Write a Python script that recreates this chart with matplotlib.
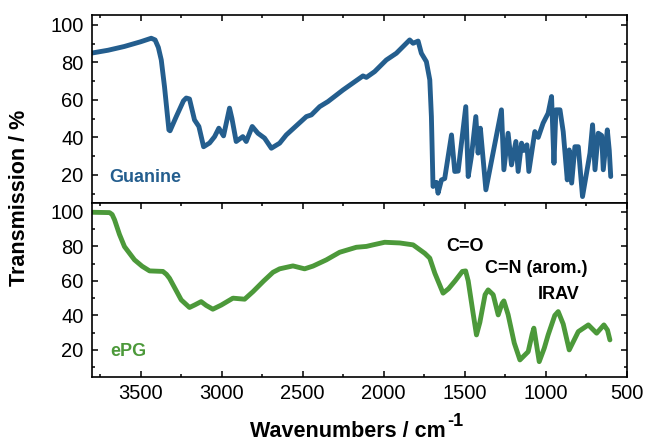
import matplotlib
matplotlib.use('Agg')
import matplotlib.pyplot as plt
from matplotlib.ticker import MultipleLocator
from matplotlib.transforms import offset_copy

plt.rcParams['font.family'] = ['Liberation Sans', 'DejaVu Sans']

# Guanine spectrum
guanine_wn = [3800, 3700, 3600, 3500, 3434, 3410, 3390, 3372, 3352, 3325, 3318, 3280, 3235,
              3218, 3198, 3167, 3140, 3111, 3074, 3043, 3017, 2988, 2951, 2936, 2910, 2869,
              2848, 2811, 2776, 2735, 2693, 2642, 2601, 2477, 2446, 2395, 2344, 2251, 2128,
              2107, 2056, 1984, 1922, 1840, 1819, 1788, 1768, 1737, 1716, 1706, 1696, 1675,
              1665, 1644, 1624, 1582, 1562, 1541, 1494, 1479, 1459, 1432, 1418, 1404, 1370,
              1274, 1259, 1233, 1212, 1185, 1171, 1150, 1136, 1117, 1105, 1068, 1047, 1017,
              986, 965, 950, 938, 913, 893, 868, 856, 841, 821, 800, 774, 728, 712, 697, 677,
              656, 646, 621, 609, 600]
guanine_t = [85, 86.5, 88.5, 91, 92.9, 92, 88, 81.3, 67, 44, 43.5, 51, 59.5,
             61, 60.5, 49.3, 45.8, 35, 37, 40.4, 44.9, 40.8, 55.6, 50, 37.8, 40.4,
             37.8, 45.8, 42.2, 39.6, 34.2, 36.9, 41.3, 51.1, 52, 56.4, 59.1, 65.3, 72.8,
             72, 75.1, 81.3, 84.9, 92, 90.2, 91.4, 84.9, 80.4, 70.7, 51.1, 13.8, 16,
             10.2, 17.3, 18, 41.3, 21.8, 22, 56.4, 19.1, 30, 51.1, 31.6, 44.9, 12,
             54.7, 22.7, 42.2, 25.3, 37.8, 21.8, 36.9, 33, 36, 21.8, 43.1, 40, 47.6,
             52.9, 61.8, 26.2, 54.7, 54.7, 43, 17.3, 33.3, 15.6, 35, 35, 8.4, 31.6, 46.7,
             22.7, 42.2, 41, 22.7, 44, 33, 19.1]

# ePG spectrum
epg_wn = [3800, 3691, 3675, 3660, 3630, 3599, 3537, 3490, 3444, 3362, 3340, 3321, 3249,
          3198, 3167, 3126, 3095, 3054, 3002, 2930, 2858, 2806, 2740, 2683, 2642, 2560,
          2488, 2436, 2354, 2272, 2169, 2107, 2066, 1994, 1901, 1819, 1747, 1716, 1685,
          1634, 1600, 1560, 1515, 1495, 1479, 1450, 1428, 1407, 1375, 1356, 1325, 1294,
          1270, 1259, 1233, 1195, 1160, 1109, 1085, 1074, 1041, 1010, 986, 945, 924, 893,
          856, 800, 738, 687, 642, 620, 605]
epg_t = [99.8, 99.6, 98.5, 95.4, 87, 79.9, 72.2, 68.5, 65.8, 65.5, 63.8, 61.5, 49,
         44.6, 46, 48, 45.8, 43.6, 46, 50, 49.4, 53.8, 60, 65, 67, 68.7,
         67, 68.6, 72.2, 76.6, 79.5, 80, 80.9, 82.4, 82, 80.9, 76, 73.2, 64.5,
         52.9, 55.5, 60, 65.5, 65.8, 60, 42, 28.7, 36, 52, 54.8, 52, 40.3,
         47, 48.4, 40.5, 24, 14.2, 19, 29, 32.6, 13.2, 21, 28.7, 40, 42.2, 35,
         20, 30.6, 34.5, 29.7, 34.5, 31.5, 25.8]

blue = '#245e8e'
green = '#4c993a'

fig = plt.figure(figsize=(6.47, 4.48), dpi=100)
ax1 = fig.add_axes([0.142, 0.547, 0.827, 0.4195])
ax2 = fig.add_axes([0.142, 0.1585, 0.827, 0.3885])

ax1.plot(guanine_wn, guanine_t, color=blue, lw=3.5, solid_joinstyle='round',
         solid_capstyle='round')
ax2.plot(epg_wn, epg_t, color=green, lw=3.5, solid_joinstyle='round',
         solid_capstyle='round')

ax1.set_ylim(5, 105.3)
ax2.set_ylim(4.3, 105.2)

for ax in (ax1, ax2):
    ax.set_xlim(3800, 500)
    ax.xaxis.set_major_locator(MultipleLocator(500))
    ax.xaxis.set_minor_locator(MultipleLocator(250))
    ax.yaxis.set_major_locator(MultipleLocator(20))
    ax.yaxis.set_minor_locator(MultipleLocator(10))
    ax.tick_params(which='both', direction='in', left=True, right=True, top=True,
                   labelsize=14.5, width=1.1)
    ax.tick_params(which='major', length=4.5)
    ax.tick_params(which='minor', length=2.5)
    ax.tick_params(axis='y', pad=6)
    ax.tick_params(axis='x', pad=5)
    for s in ax.spines.values():
        s.set_linewidth(1.2)

ax1.set_yticks([20, 40, 60, 80, 100])
ax2.set_yticks([20, 40, 60, 80, 100])
ax1.tick_params(which='both', bottom=False, labelbottom=False)

ax1.text(3690, 18.4, 'Guanine', color=blue, fontsize=13, fontweight='bold', va='center')
ax2.text(3685, 19, 'ePG', color=green, fontsize=13, fontweight='bold', va='center')
ax2.text(1500, 80, 'C=O', fontsize=13, fontweight='bold', ha='center', va='center')
ax2.text(1058, 67, 'C=N (arom.)', fontsize=13, fontweight='bold', ha='center', va='center')
ax2.text(924, 52, 'IRAV', fontsize=13, fontweight='bold', ha='center', va='center')

fig.text(20 / 647, 1 - 197.5 / 448, 'Transmission / %', rotation=90, fontsize=15.5,
         fontweight='bold', ha='center', va='center')

# x label with a raised "-1" as plain text
xl = fig.text(348 / 647, 1 - 437 / 448, 'Wavenumbers / cm', fontsize=15.5,
              fontweight='bold', ha='center', va='baseline')
fig.canvas.draw()
bb = xl.get_window_extent()
fig.text(bb.x1 / fig.bbox.width + 0.002, 1 - 437 / 448, '-1', fontsize=13,
         fontweight='bold', ha='left', va='baseline',
         transform=offset_copy(fig.transFigure, fig=fig, y=8, units='points'))

fig.savefig('out.png', dpi=100)
